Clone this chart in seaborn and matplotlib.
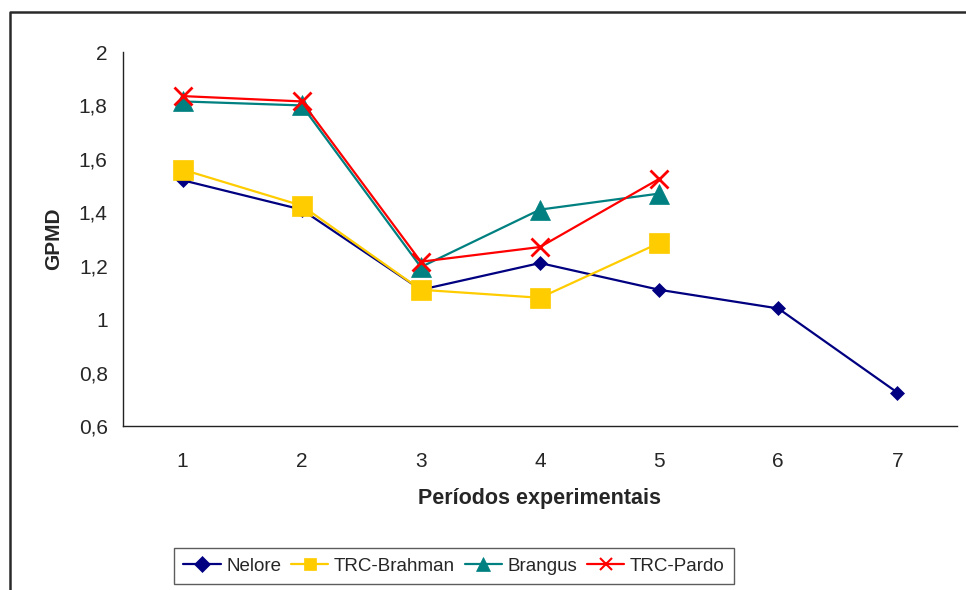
import matplotlib
matplotlib.use("Agg")
import matplotlib.pyplot as plt
from matplotlib.lines import Line2D
import seaborn as sns
import pandas as pd

# Average daily gain (GPMD) per experimental period for each genetic group
periods = [1, 2, 3, 4, 5, 6, 7]
nelore = [1.52, 1.41, 1.11, 1.21, 1.11, 1.04, 0.725]
trc_brahman = [1.56, 1.425, 1.11, 1.08, 1.285]
brangus = [1.815, 1.80, 1.195, 1.41, 1.47]
trc_pardo = [1.835, 1.815, 1.215, 1.27, 1.525]

y_ticks = [0.6, 0.8, 1.0, 1.2, 1.4, 1.6, 1.8, 2.0]
y_tick_labels = ["0,6", "0,8", "1", "1,2", "1,4", "1,6", "1,8", "2"]

series = [
    ("Nelore", nelore, "#000080", "D", 7.5, 8),
    ("TRC-Brahman", trc_brahman, "#FFCC00", "s", 14, 9),
    ("Brangus", brangus, "#008080", "^", 15, 10),
    ("TRC-Pardo", trc_pardo, "#FF0000", "x", 13, 9),
]

sns.set_style("white")
plt.rcParams["font.family"] = ["Liberation Sans", "DejaVu Sans"]

fig = plt.figure(figsize=(9.66, 5.90), dpi=100)
ax = fig.add_axes([123 / 966, 1 - 426 / 590, 834 / 966, 374 / 590])

handles = []
for name, vals, color, marker, ms, leg_ms in series:
    mew = 2.0 if marker == "x" else 0.5
    df = pd.DataFrame({"periodo": periods[:len(vals)], "gpmd": vals})
    sns.lineplot(data=df, x="periodo", y="gpmd", ax=ax, color=color,
                 marker=marker, markersize=ms, markeredgecolor=color,
                 markeredgewidth=mew, linewidth=1.6, legend=False)
    handles.append(Line2D([], [], color=color, marker=marker, linewidth=1.6,
                          markersize=leg_ms, markeredgecolor=color,
                          markeredgewidth=1.5 if marker == "x" else 0.5,
                          label=name))

ax.set_xlim(0.5, 7.5)
ax.set_ylim(0.6, 2.0)
ax.set_yticks(y_ticks)
ax.set_yticklabels(y_tick_labels)
ax.set_xticks(periods)
ax.set_xticklabels([str(p) for p in periods])
ax.set_xticks([p + 0.5 for p in range(0, 8)], minor=True)
ax.tick_params(axis="x", which="major", length=0, pad=19, labelsize=15)
ax.tick_params(axis="x", which="minor", length=6, width=1, direction="out",
               color="#333333")
ax.tick_params(axis="y", which="major", length=5, width=1, direction="out",
               pad=6, labelsize=15, color="#333333")

for side in ("top", "right"):
    ax.spines[side].set_visible(False)
for side in ("left", "bottom"):
    ax.spines[side].set_color("#222222")
    ax.spines[side].set_linewidth(1.0)

ax.set_xlabel("Períodos experimentais", fontsize=15.5, fontweight="bold",
              labelpad=12)
ax.set_ylabel("GPMD", fontsize=15, fontweight="bold", labelpad=11)

leg = fig.legend(handles=handles, loc="center",
                 bbox_to_anchor=(454 / 966, 1 - 566 / 590),
                 ncol=4, frameon=True, fancybox=False,
                 prop={"family": "Liberation Sans", "size": 13.5},
                 handlelength=2.0, columnspacing=0.5, handletextpad=0.3,
                 borderpad=0.5, edgecolor="#333333")
leg.get_frame().set_linewidth(1.0)

# outer chart-area border (top and left edges)
fig.add_artist(Line2D([10 / 966, 10 / 966, 1.0], [0.0, 1 - 12 / 590, 1 - 12 / 590],
                      transform=fig.transFigure, color="#2a2a2a", linewidth=1.8))

fig.savefig("out.png", dpi=100, facecolor="white")
